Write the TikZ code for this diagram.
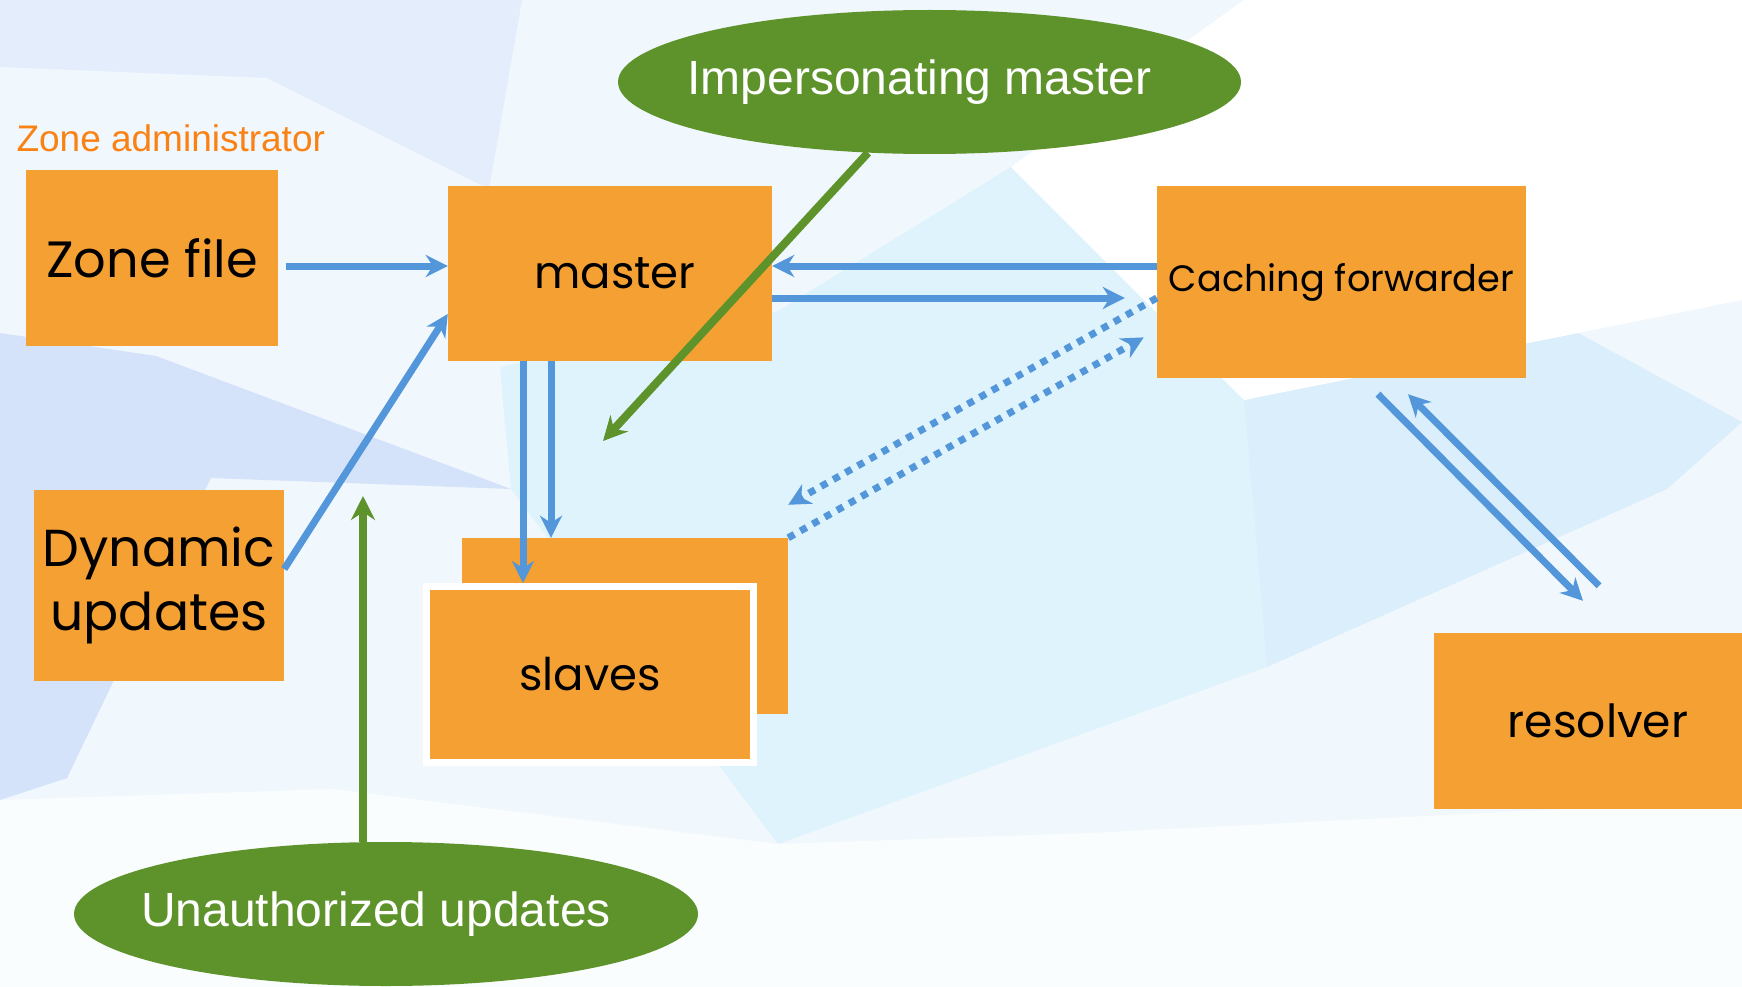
\documentclass[tikz,border=0pt]{standalone}
\usepackage{fontspec}
\setmainfont{Liberation Sans}
\newfontfamily\boxfont{Poppins}
\usetikzlibrary{arrows.meta,shapes.geometric}
\definecolor{myorange}{RGB}{245,160,50}
\definecolor{myblue}{RGB}{83,151,218}
\definecolor{mygreen}{RGB}{94,147,43}
\definecolor{adminorange}{RGB}{250,130,20}
\definecolor{bgbase}{RGB}{240,247,253}
\definecolor{bglilac}{RGB}{228,237,251}
\definecolor{bgblue}{RGB}{212,227,249}
\definecolor{bgcyan}{RGB}{222,243,252}
\definecolor{bgsky}{RGB}{218,238,251}

\begin{document}
\begin{tikzpicture}[x=1pt,y=-1pt,
    box/.style={fill=myorange, inner sep=0pt, text=black},
    flow/.style={myblue, line width=7pt, -{Stealth[length=22pt,width=22pt,inset=7pt]}},
    probe/.style={flow, dash pattern=on 7pt off 7pt},
    attack/.style={mygreen, line width=8pt, -{Stealth[length=24pt,width=24pt,inset=8pt]}},
    threat/.style={ellipse, fill=mygreen, text=white, inner ysep=0pt, inner xsep=-20pt,
      minimum width=623pt, minimum height=144pt,
      font=\fontsize{48}{56}\selectfont}]
    \useasboundingbox (0,0) rectangle (1742,987);
    \clip (0,0) rectangle (1742,987);

    % Hintergrund
    \fill[bgbase] (0,0) rectangle (1742,987);
    \fill[bglilac] (0,0) -- (522,0) -- (489,189) -- (267,78) -- (0,67) -- cycle;
    \fill[bgblue] (0,333) -- (156,356) -- (511,489) -- (211,478) -- (67,778) -- (0,800) -- cycle;
    \fill[bgcyan] (500,367) -- (778,311) -- (1011,167) -- (1244,400) -- (1267,667) -- (778,844) -- (511,489) -- cycle;
    \fill[bgsky] (1244,400) -- (1578,333) -- (1742,422) -- (1667,489) -- (1267,667) -- cycle;
    \fill[white] (1244,0) -- (1742,0) -- (1742,300) -- (1578,333) -- (1244,400) -- (1011,167) -- cycle;
    \fill[white!70!bgbase] (0,800) -- (333,789) -- (778,844) -- (1089,833) -- (1742,800) -- (1742,987) -- (0,987) -- cycle;

    % Kaesten
    \node[anchor=base west, text=adminorange, font=\fontsize{37}{44}\selectfont]
      (admin) at (13,152) {Zone administrator};
    \node[box, minimum width=252pt, minimum height=176pt,
      font=\boxfont\fontsize{51}{60}\selectfont] (zone) at (152,258) {Zone file};
    \node[box, minimum width=324pt, minimum height=175pt,
      font=\boxfont\fontsize{45}{54}\selectfont] (master) at (610,273.5) {\hspace*{10pt}master};
    \node[box, minimum width=369pt, minimum height=192pt,
      font=\boxfont\fontsize{36.7}{44}\selectfont] (fwd) at (1341.5,282) {Caching forwarder};
    \node[box, minimum width=250pt, minimum height=191pt, align=center,
      font=\boxfont\fontsize{52}{64}\selectfont] (dyn) at (159,585.5) {Dynamic\\updates};
    \node[box, minimum width=326pt, minimum height=176pt] (slaveback) at (625,626) {};
    \node[box, draw=white, line width=7pt, minimum width=327pt, minimum height=176pt,
      font=\boxfont\fontsize{45}{54}\selectfont] (slaves) at (590,674.5) {slaves};
    \node[box, minimum width=328pt, minimum height=176pt,
      font=\boxfont\fontsize{45.6}{54}\selectfont] (resolver) at (1598,721) {resolver};

    % Verbindungen
    \draw[flow, shorten <=8pt] (zone.east |- 0,266) -- (master.west |- 0,266);
    \draw[flow] (dyn.east |- 0,569) -- (master.west |- 0,314);
    \draw[flow] (fwd.west |- 0,266) -- (master.east |- 0,266);
    \draw[flow, shorten >=32pt] (master.east |- 0,298) -- (fwd.west |- 0,298);
    \draw[probe] (fwd.west |- 0,298) -- ([yshift=33pt]slaveback.north east);
    \draw[probe, shorten >=15pt] (slaveback.north east) -- (fwd.west |- 0,330);
    \draw[flow] (master.south -| 523,0) -- (slaves.north -| 523,0);
    \draw[flow] (master.south -| 551,0) -- (slaveback.north -| 551,0);
    \draw[flow] ([xshift=36.5pt,yshift=-16pt]fwd.south) -- ([xshift=-15pt,yshift=32pt]resolver.north);
    \draw[flow] ([xshift=1pt,yshift=47pt]resolver.north) -- ([xshift=66.5pt,yshift=-16pt]fwd.south);

    % Angriffe
    \node[threat] (imp) at (929.5,82) {\hspace*{-20pt}Impersonating master};
    \node[threat, minimum width=624pt] (unauth) at (386,914) {\hspace*{-20pt}Unauthorized updates};
    \coordinate (impT) at (603,441);
    \coordinate (unauthT) at (363,496);
    \draw[attack] (imp.-131) -- (impT);
    \draw[attack] (unauth.north -| unauthT) -- (unauthT);
\end{tikzpicture}
\end{document}
